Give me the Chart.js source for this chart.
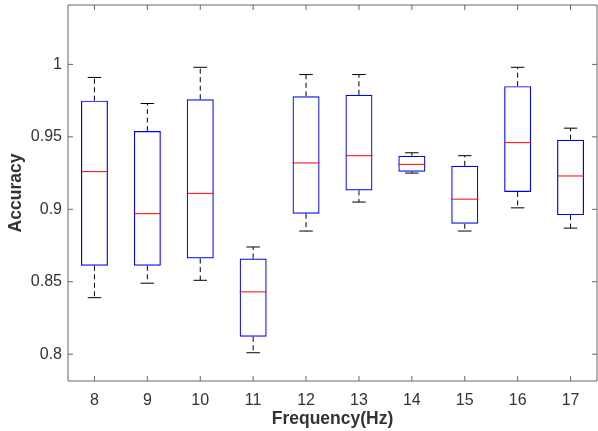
<!DOCTYPE html>
<html lang="en">
<head>
<meta charset="UTF-8">
<title>Accuracy by frequency</title>
<script src="https://cdn.jsdelivr.net/npm/chart.js"></script>
<style>
    html, body { margin: 0; padding: 0; background: #fff; }
    #wrap { width: 598px; height: 431px; position: relative; }
</style>
</head>
<body>
<div id="wrap"><canvas id="myChart"></canvas></div>
<script>
// values
const freqs = ['8', '9', '10', '11', '12', '13', '14', '15', '16', '17'];
const whiskerHigh = [0.991, 0.973, 0.998, 0.874, 0.993, 0.993, 0.939, 0.937, 0.998, 0.956];
const q3 = [0.975, 0.954, 0.976, 0.866, 0.978, 0.979, 0.937, 0.930, 0.985, 0.948];
const medians = [0.926, 0.897, 0.911, 0.843, 0.932, 0.937, 0.931, 0.907, 0.946, 0.923];
const q1 = [0.861, 0.861, 0.866, 0.812, 0.897, 0.913, 0.926, 0.890, 0.912, 0.896];
const whiskerLow = [0.839, 0.849, 0.851, 0.801, 0.885, 0.905, 0.925, 0.885, 0.901, 0.887];
const yTicks = [0.8, 0.85, 0.9, 0.95, 1];

const axisColor = '#666666';
const textColor = '#333333';

// whiskers, medians and the MATLAB-like box with inward ticks
const boxPlotExtras = {
    id: 'boxPlotExtras',
    afterDatasetsDraw(chart) {
        const ctx = chart.ctx;
        const x = chart.scales.x, y = chart.scales.y;
        const meta = chart.getDatasetMeta(0);
        ctx.save();
        meta.data.forEach((bar, i) => {
            const cx = bar.x;
            const half = bar.width / 2;
            const cap = bar.width / 4;
            const yHi = y.getPixelForValue(whiskerHigh[i]);
            const yQ3 = y.getPixelForValue(q3[i]);
            const yQ1 = y.getPixelForValue(q1[i]);
            const yLo = y.getPixelForValue(whiskerLow[i]);
            const yMed = y.getPixelForValue(medians[i]);

            ctx.strokeStyle = '#000';
            ctx.lineWidth = 1;
            ctx.setLineDash([5, 3.5]);
            ctx.beginPath();
            ctx.moveTo(cx, yQ3); ctx.lineTo(cx, yHi);
            ctx.moveTo(cx, yQ1); ctx.lineTo(cx, yLo);
            ctx.stroke();
            ctx.setLineDash([]);
            ctx.beginPath();
            ctx.moveTo(cx - cap, yHi); ctx.lineTo(cx + cap, yHi);
            ctx.moveTo(cx - cap, yLo); ctx.lineTo(cx + cap, yLo);
            ctx.stroke();

            ctx.strokeStyle = '#ff0000';
            ctx.beginPath();
            ctx.moveTo(cx - half, yMed); ctx.lineTo(cx + half, yMed);
            ctx.stroke();
        });

        const a = chart.chartArea;
        const tick = 5;
        ctx.strokeStyle = axisColor;
        ctx.lineWidth = 1;
        ctx.beginPath();
        ctx.rect(a.left, a.top, a.right - a.left, a.bottom - a.top);
        x.ticks.forEach((t, i) => {
            const px = x.getPixelForTick(i);
            ctx.moveTo(px, a.bottom); ctx.lineTo(px, a.bottom - tick);
            ctx.moveTo(px, a.top); ctx.lineTo(px, a.top + tick);
        });
        y.ticks.forEach((t) => {
            const py = y.getPixelForValue(t.value);
            ctx.moveTo(a.left, py); ctx.lineTo(a.left + tick, py);
            ctx.moveTo(a.right, py); ctx.lineTo(a.right - tick, py);
        });
        ctx.stroke();
        ctx.restore();
    }
};

const ctx = document.getElementById('myChart').getContext('2d');
const myChart = new Chart(ctx, {
    type: 'bar',
    data: {
        labels: freqs,
        datasets: [{
            data: q1.map((v, i) => [v, q3[i]]),
            backgroundColor: 'rgba(255,255,255,0)',
            borderColor: '#0000ff',
            borderWidth: 1.2,
            borderSkipped: false,
            barPercentage: 0.51,
            categoryPercentage: 1.0
        }]
    },
    options: {
        responsive: true,
        maintainAspectRatio: false,
        animation: false,
        layout: { padding: { left: 0, right: 1, top: 5, bottom: 0 } },
        plugins: {
            legend: { display: false },
            tooltip: { enabled: false }
        },
        scales: {
            x: {
                grid: { display: false, drawTicks: false },
                border: { display: false },
                ticks: {
                    color: textColor,
                    padding: 10,
                    font: { family: 'Liberation Sans, Arial, sans-serif', size: 16 }
                },
                title: {
                    display: true,
                    text: 'Frequency(Hz)',
                    color: textColor,
                    padding: { top: 0, bottom: 1 },
                    font: { family: 'Liberation Sans, Arial, sans-serif', size: 17.5, weight: 'bold' }
                },
                afterFit(scale) {
                    scale.height = 50;
                    scale.paddingLeft = 0;
                    scale.paddingRight = 0;
                }
            },
            y: {
                min: 0.7815,
                max: 1.041,
                grid: { display: false, drawTicks: false },
                border: { display: false },
                afterBuildTicks(scale) { scale.ticks = yTicks.map(v => ({ value: v })); },
                ticks: {
                    color: textColor,
                    padding: 6,
                    callback: v => String(v),
                    font: { family: 'Liberation Sans, Arial, sans-serif', size: 16 }
                },
                title: {
                    display: true,
                    text: 'Accuracy',
                    color: textColor,
                    padding: { top: 6, bottom: 0 },
                    font: { family: 'Liberation Sans, Arial, sans-serif', size: 17.5, weight: 'bold' }
                },
                afterFit(scale) {
                    scale.width = 68;
                    scale.paddingTop = 0;
                    scale.paddingBottom = 0;
                }
            }
        }
    },
    plugins: [boxPlotExtras]
});
</script>
</body>
</html>
